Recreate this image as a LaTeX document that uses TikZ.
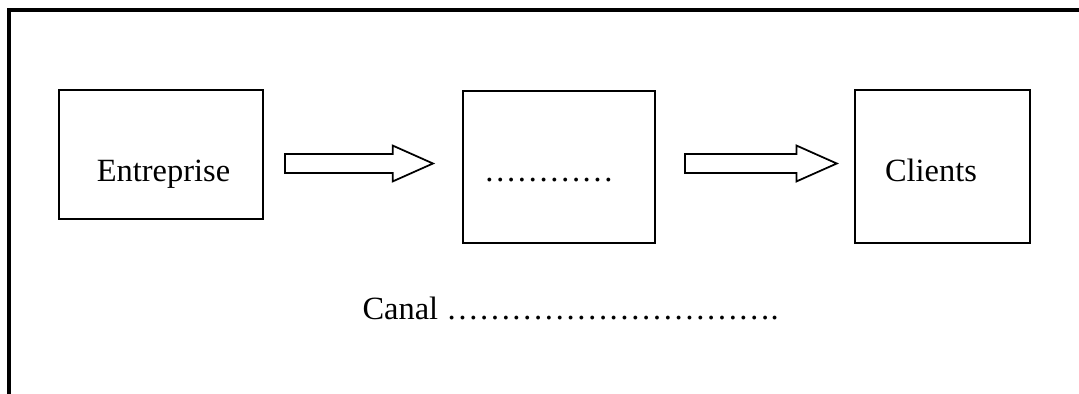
\documentclass[tikz,border=0pt]{standalone}
\usepackage{fontspec}
\setmainfont{Liberation Serif}
\usepackage{tikz}
\usetikzlibrary{shapes.arrows, positioning}
\newcommand{\ellip}{…}

\begin{document}
\begin{tikzpicture}[
    x=0.37pt, y=-0.37pt,
    frame/.style={line width=1.3pt},
    box/.style={draw, line width=0.75pt, inner sep=0pt},
    txt/.style={font=\fontsize{12}{14}\selectfont, inner sep=0pt, anchor=base},
    blockarrow/.style={single arrow, draw, line width=0.65pt, anchor=tail, single arrow head extend=3.15pt, single arrow tip angle=48, inner xsep=0pt, inner ysep=3.15pt, minimum width=12.6pt}
]
    \useasboundingbox (0,0) rectangle (1079,394);

    % Frame (open at bottom and right)
    \draw[frame] (9,400) -- (9,10) -- (1085,10);

    % Boxes
    \node[box, minimum width=75.5pt, minimum height=47.7pt] (entreprise) at (161,154.5) {};
    \node[box, minimum width=71pt, minimum height=56.2pt] (intermediaire) at (559,167) {};
    \node[box, minimum width=64.8pt, minimum height=56.6pt] (clients) at (942.5,166.5) {};

    % Texts in the boxes
    \node[txt] (entreprisetxt) at (163.5,182) {Entreprise};
    \node[txt] (intermediairetxt) at (549,182) {\ellip\ellip\ellip\ellip};
    \node[txt] (clientstxt) at (931,182) {Clients};

    % Block arrows
    \node[blockarrow, minimum height=54.8pt] (arr1) at (284,163.5) {};
    \node[blockarrow, minimum height=56.2pt] (arr2) at (684,163.5) {};

    % Caption
    \node[txt, anchor=base west] (canal) at (362,320) {Canal \ellip\ellip\ellip\ellip\ellip\ellip\ellip\ellip\ellip\ellip.};
\end{tikzpicture}
\end{document}
